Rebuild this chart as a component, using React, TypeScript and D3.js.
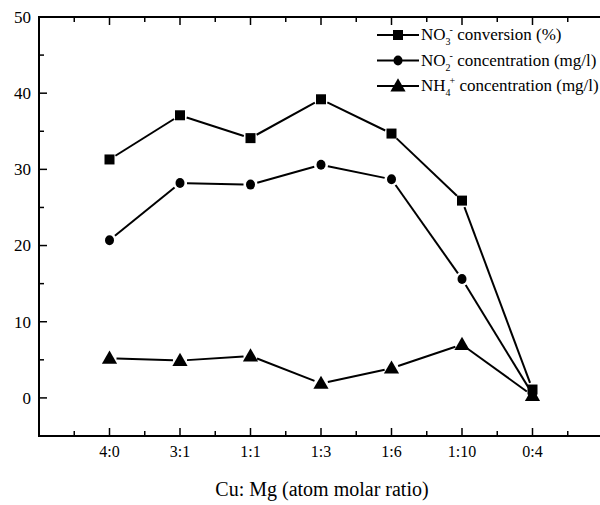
import React, { useEffect, useRef } from "react";
import * as d3 from "d3";

const ratios = ["4:0", "3:1", "1:1", "1:3", "1:6", "1:10", "0:4"];
const no3Conversion = [31.3, 37.1, 34.1, 39.2, 34.7, 25.9, 1.1];
const no2Concentration = [20.7, 28.2, 28.0, 30.6, 28.7, 15.6, 0.5];
const nh4Concentration = [5.2, 4.9, 5.5, 1.9, 3.9, 7.0, 0.3];
const yMajorTicks = [0, 10, 20, 30, 40, 50];
const yMinorTicks = [5, 15, 25, 35, 45];

const width = 600;
const height = 505;
const left = 39;
const top = 17;
const bottom = 436;
const right = 603;
const font = "Liberation Serif, DejaVu Serif, serif";

const App = () => {
    const svgRef = useRef<SVGSVGElement>(null);

    useEffect(() => {
        const svg = d3.select(svgRef.current);
        svg.selectAll("*").remove();

        const x = d3.scaleLinear().domain([-1, 7]).range([left, right]);
        const y = d3.scaleLinear().domain([-5, 50]).range([bottom, top]);

        const series = [
            { name: "no3", values: no3Conversion, marker: "square" },
            { name: "no2", values: no2Concentration, marker: "circle" },
            { name: "nh4", values: nh4Concentration, marker: "triangle" },
        ];

        const drawMarker = (g, kind, cx, cy) => {
            if (kind === "square") {
                g.append("rect").attr("x", cx - 5).attr("y", cy - 5)
                    .attr("width", 10).attr("height", 10).attr("fill", "black");
            } else if (kind === "circle") {
                g.append("ellipse").attr("cx", cx).attr("cy", cy)
                    .attr("rx", 4.5).attr("ry", 5).attr("fill", "black");
            } else {
                const tri = d3.symbol().type(d3.symbolTriangle).size(100);
                g.append("path").attr("d", tri()).attr("fill", "black")
                    .attr("transform", `translate(${cx},${cy + 1})`);
            }
        };

        const line = d3.line();
        const gap = 7;

        // series lines, broken a bit around each marker
        series.forEach((s) => {
            const g = svg.append("g");
            const pts = s.values.map((v, i) => [x(i), y(v)]);
            for (let i = 0; i < pts.length - 1; i++) {
                const [x1, y1] = pts[i];
                const [x2, y2] = pts[i + 1];
                const len = Math.hypot(x2 - x1, y2 - y1);
                const ux = (x2 - x1) / len;
                const uy = (y2 - y1) / len;
                g.append("path")
                    .attr("d", line([[x1 + ux * gap, y1 + uy * gap], [x2 - ux * gap, y2 - uy * gap]]))
                    .attr("stroke", "black").attr("stroke-width", 2).attr("fill", "none");
            }
            pts.forEach(([cx, cy]) => drawMarker(g, s.marker, cx, cy));
        });

        // axes frame
        const axes = svg.append("g").attr("stroke", "black");
        axes.append("line").attr("x1", left).attr("x2", left).attr("y1", top - 1).attr("y2", bottom + 1).attr("stroke-width", 2);
        axes.append("line").attr("x1", left).attr("x2", width).attr("y1", bottom).attr("y2", bottom).attr("stroke-width", 2);
        axes.append("line").attr("x1", left).attr("x2", width).attr("y1", top).attr("y2", top).attr("stroke-width", 2);

        // x ticks (bottom pointing up, top pointing down)
        const xMajor = d3.range(0, 8);
        const xMinor = d3.range(-0.5, 7.5, 1);
        xMajor.forEach((t) => {
            axes.append("line").attr("x1", x(t)).attr("x2", x(t)).attr("y1", bottom).attr("y2", bottom - 8).attr("stroke-width", 1.5);
            axes.append("line").attr("x1", x(t)).attr("x2", x(t)).attr("y1", top).attr("y2", top + 8).attr("stroke-width", 1.5);
        });
        xMinor.forEach((t) => {
            axes.append("line").attr("x1", x(t)).attr("x2", x(t)).attr("y1", bottom).attr("y2", bottom - 5).attr("stroke-width", 1.5);
            axes.append("line").attr("x1", x(t)).attr("x2", x(t)).attr("y1", top).attr("y2", top + 5).attr("stroke-width", 1.5);
        });

        // y ticks
        yMajorTicks.forEach((t) => {
            axes.append("line").attr("x1", left).attr("x2", left + 8).attr("y1", y(t)).attr("y2", y(t)).attr("stroke-width", 1.5);
        });
        yMinorTicks.forEach((t) => {
            axes.append("line").attr("x1", left).attr("x2", left + 5).attr("y1", y(t)).attr("y2", y(t)).attr("stroke-width", 1.5);
        });

        const labels = svg.append("g").style("font-family", font).attr("fill", "black");
        yMajorTicks.forEach((t) => {
            labels.append("text").attr("x", 31).attr("y", y(t)).attr("dy", "0.35em")
                .attr("text-anchor", "end").attr("font-size", 17).text(t);
        });
        ratios.forEach((r, i) => {
            labels.append("text").attr("x", x(i)).attr("y", 457)
                .attr("text-anchor", "middle").attr("font-size", 16).text(r);
        });
        labels.append("text").attr("x", 322).attr("y", 496)
            .attr("text-anchor", "middle").attr("font-size", 20).text("Cu: Mg (atom molar ratio)");

        // legend
        const legendRows = [
            { marker: "square", main: "NO", sub: "3", sup: "-", rest: " conversion (%)" },
            { marker: "circle", main: "NO", sub: "2", sup: "-", rest: " concentration (mg/l)" },
            { marker: "triangle", main: "NH", sub: "4", sup: "+", rest: " concentration (mg/l)" },
        ];
        const lg = svg.append("g");
        legendRows.forEach((row, i) => {
            const ly = 35 + i * 25.5;
            lg.append("line").attr("x1", 377).attr("x2", 419).attr("y1", ly).attr("y2", ly)
                .attr("stroke", "black").attr("stroke-width", 2);
            drawMarker(lg, row.marker, 398, ly);
            const t = lg.append("text").attr("x", 421).attr("y", ly + 5)
                .style("font-family", font).attr("font-size", 17).attr("fill", "black");
            t.append("tspan").text(row.main);
            t.append("tspan").attr("font-size", 10).attr("dy", 5).text(row.sub);
            t.append("tspan").attr("font-size", 10).attr("dy", -12).attr("dx", -1).text(row.sup);
            t.append("tspan").attr("dy", 7).text(row.rest);
        });
    }, []);

    return (
        <svg
            ref={svgRef}
            width={width}
            height={height}
            style={{ position: "absolute", left: 0, top: 0, background: "white" }}
        />
    );
};

export default App;
